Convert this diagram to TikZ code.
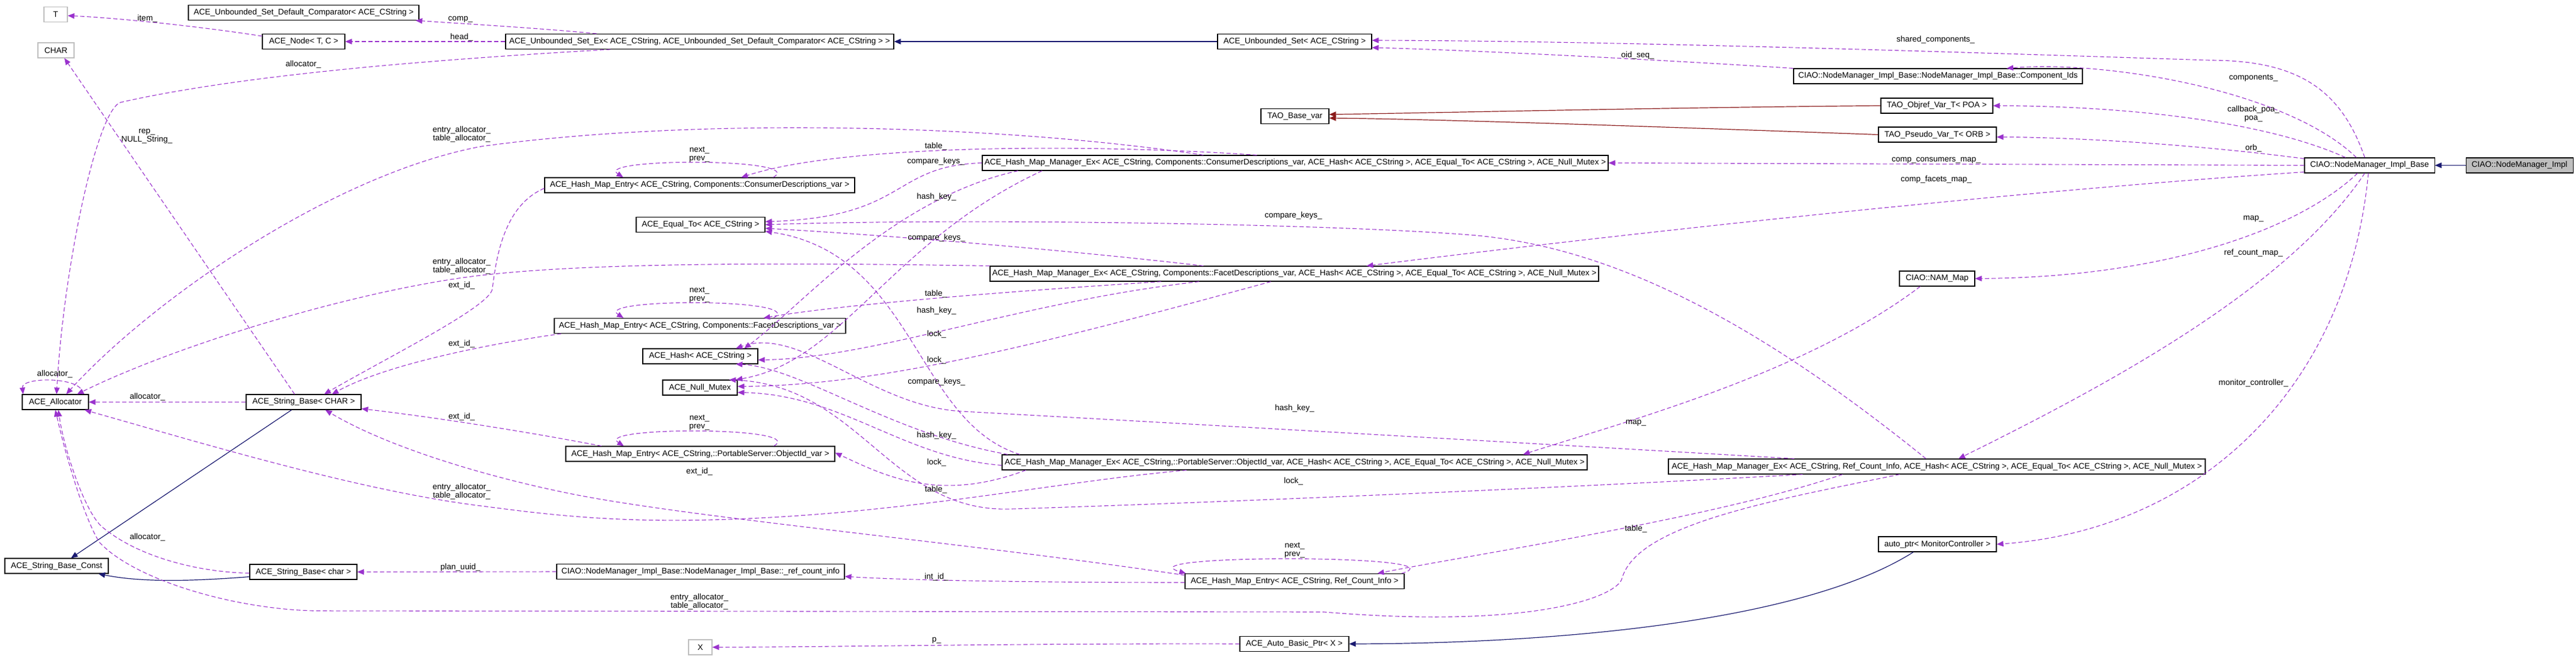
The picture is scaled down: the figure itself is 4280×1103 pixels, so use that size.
\documentclass[tikz,border=0pt]{standalone}
\usepackage{fontspec}
\setmainfont{Liberation Sans}
\usetikzlibrary{arrows.meta,calc}
\definecolor{purp}{HTML}{9A32CD}
\definecolor{navyb}{HTML}{191970}
\definecolor{fireb}{HTML}{8B1A1A}
\definecolor{grayfill}{HTML}{BFBFBF}
\newcommand\dgfont{\fontsize{13.5}{14}\selectfont}
\begin{document}
\begin{tikzpicture}[x=1pt,y=-1pt,
  box/.style={draw=black,line width=1.1pt,inner sep=0pt,minimum height=25pt,font=\dgfont,align=center},
  gbox/.style={box,draw=grayfill},
  fbox/.style={box,fill=grayfill},
  lbl/.style={font=\dgfont,inner sep=0pt,align=center},
  tip/.style={-{Triangle[length=11pt,width=9pt]}},
  use/.style={tip,draw=purp,line width=1.1pt,dash pattern=on 7pt off 4pt},
  inh/.style={tip,draw=navyb,line width=1.2pt},
  priv/.style={tip,draw=fireb,line width=1.2pt}]
\fill[white] (0,0) rectangle (4280,1103);
\useasboundingbox (0,0) rectangle (4280,1103);

% ---------------- nodes ----------------
\node[gbox,minimum width=39pt] (T) at (92.5,24) {T};
\node[box,minimum width=383pt] (cmp) at (504.5,21) {ACE\_Unbounded\_Set\_Default\_Comparator< ACE\_CString >};
\node[box,minimum width=137pt] (acenode) at (504.5,69) {ACE\_Node< T, C >};
\node[gbox,minimum width=60pt] (CHAR) at (93,83.5) {CHAR};
\node[box,minimum width=645pt] (setex) at (1162.5,69) {ACE\_Unbounded\_Set\_Ex< ACE\_CString, ACE\_Unbounded\_Set\_Default\_Comparator< ACE\_CString > >};
\node[box,minimum width=256pt] (uset) at (2151,69) {ACE\_Unbounded\_Set< ACE\_CString >};
\node[box,minimum width=113pt] (tbase) at (2151.5,193) {TAO\_Base\_var};
\node[box,minimum width=480pt] (cids) at (3220,126.5) {CIAO::NodeManager\_Impl\_Base::NodeManager\_Impl\_Base::Component\_Ids};
\node[box,minimum width=186pt] (objref) at (3218,175.5) {TAO\_Objref\_Var\_T< POA >};
\node[box,minimum width=196pt] (pseudo) at (3219,223.5) {TAO\_Pseudo\_Var\_T< ORB >};
\node[box,minimum width=216pt] (base) at (3937,274.5) {CIAO::NodeManager\_Impl\_Base};
\node[fbox,minimum width=178pt] (impl) at (4186,274.5) {CIAO::NodeManager\_Impl};
\node[box,minimum width=1040pt] (cmgr) at (2152,270.5) {ACE\_Hash\_Map\_Manager\_Ex< ACE\_CString, Components::ConsumerDescriptions\_var, ACE\_Hash< ACE\_CString >, ACE\_Equal\_To< ACE\_CString >, ACE\_Null\_Mutex >};
\node[box,minimum width=515pt] (centry) at (1162.5,307.5) {ACE\_Hash\_Map\_Entry< ACE\_CString, Components::ConsumerDescriptions\_var >};
\node[box,minimum width=214pt] (eq) at (1164,373) {ACE\_Equal\_To< ACE\_CString >};
\node[box,minimum width=1011pt] (fmgr) at (2150.5,454.5) {ACE\_Hash\_Map\_Manager\_Ex< ACE\_CString, Components::FacetDescriptions\_var, ACE\_Hash< ACE\_CString >, ACE\_Equal\_To< ACE\_CString >, ACE\_Null\_Mutex >};
\node[box,minimum width=125pt] (nam) at (3218.5,462.5) {CIAO::NAM\_Map};
\node[box,minimum width=484pt] (fentry) at (1163,541) {ACE\_Hash\_Map\_Entry< ACE\_CString, Components::FacetDescriptions\_var >};
\node[box,minimum width=191pt] (hash) at (1163.5,591.5) {ACE\_Hash< ACE\_CString >};
\node[box,minimum width=124pt] (mutex) at (1163,643.5) {ACE\_Null\_Mutex};
\node[box,minimum width=110pt] (alloc) at (92,667.5) {ACE\_Allocator};
\node[box,minimum width=191pt] (sbchar) at (504.5,667.5) {ACE\_String\_Base< CHAR >};
\node[box,minimum width=447pt] (oentry) at (1163.5,753.5) {ACE\_Hash\_Map\_Entry< ACE\_CString,::PortableServer::ObjectId\_var >};
\node[box,minimum width=972pt] (omgr) at (2151,767.5) {ACE\_Hash\_Map\_Manager\_Ex< ACE\_CString,::PortableServer::ObjectId\_var, ACE\_Hash< ACE\_CString >, ACE\_Equal\_To< ACE\_CString >, ACE\_Null\_Mutex >};
\node[box,minimum width=892pt] (rmgr) at (3218,774.5) {ACE\_Hash\_Map\_Manager\_Ex< ACE\_CString, Ref\_Count\_Info, ACE\_Hash< ACE\_CString >, ACE\_Equal\_To< ACE\_CString >, ACE\_Null\_Mutex >};
\node[box,minimum width=172pt] (sbconst) at (94,939.5) {ACE\_String\_Base\_Const};
\node[box,minimum width=178pt] (sbc) at (504,949.5) {ACE\_String\_Base< char >};
\node[box,minimum width=478pt] (rci) at (1164,949) {CIAO::NodeManager\_Impl\_Base::NodeManager\_Impl\_Base::\_ref\_count\_info};
\node[box,minimum width=364pt] (rentry) at (2151,965) {ACE\_Hash\_Map\_Entry< ACE\_CString, Ref\_Count\_Info >};
\node[box,minimum width=196pt] (autoptr) at (3219,903.5) {auto\_ptr< MonitorController >};
\node[gbox,minimum width=39pt] (X) at (1163.5,1074.5) {X};
\node[box,minimum width=181pt] (abp) at (2150.5,1069) {ACE\_Auto\_Basic\_Ptr< X >};

% ---------------- inheritance ----------------
\draw[inh] (impl.west) -- (base.east);
\draw[inh] (uset.west) -- (setex.east);
\draw[inh] ($(sbchar.south)+(-20,0)$) -- ($(sbconst.north)+(24,0)$);
\draw[inh] ($(sbc.west)+(0,8)$) .. controls (330,964) and (240,968) .. ($(sbconst.south east)+(-17,0)$);
\draw[inh] ($(autoptr.south)+(-40,0)$) .. controls (3000,1030) and (2600,1068) .. (abp.east);
\draw[priv] (objref.west) .. controls (2800,178) and (2400,187) .. ($(tbase.east)+(0,-3)$);
\draw[priv] (pseudo.west) .. controls (2800,212) and (2400,198) .. ($(tbase.east)+(0,3)$);

% ---------------- NodeManager_Impl_Base usages ----------------
\draw[use] ($(base.north)+(-8,0)$) .. controls (3890,150) and (3820,100) .. (3671,100) .. controls (3300,88) and (2700,68) .. ($(uset.east)+(0,-2)$);
\draw[use] ($(base.north)+(-22,0)$) .. controls (3800,150) and (3500,100) .. ($(cids.north)+(114,0)$);
\draw[use] (cids.north west) .. controls (2850,105) and (2500,85) .. ($(uset.east)+(0,10)$);
\draw[use] ($(base.north)+(-40,0)$) .. controls (3750,195) and (3500,176) .. (objref.east);
\draw[use] ($(base.north west)+(0,2)$) .. controls (3650,240) and (3450,228) .. ($(pseudo.east)+(0,4)$);
\draw[use] (base.west) -- (cmgr.east);
\draw[use] ($(base.south west)+(0,-2)$) .. controls (3300,320) and (2600,400) .. ($(fmgr.north)+(120,0)$);
\draw[use] ($(base.south)+(-20,0)$) .. controls (3820,380) and (3600,460) .. (nam.east);
\draw[use] ($(base.south)+(-8,0)$) .. controls (3800,480) and (3500,640) .. ($(rmgr.north)+(36,0)$);
\draw[use] ($(base.south)+(-2,0)$) .. controls (3900,650) and (3650,880) .. (autoptr.east);

% ---------------- Unbounded set / node / strings ----------------
\draw[use] ($(setex.north west)+(152,0)$) .. controls (900,47) and (780,40) .. ($(cmp.south east)+(-6,0)$);
\draw[use] (setex.west) -- (acenode.east);
\draw[use] ($(setex.south west)+(175,0)$) .. controls (700,100) and (400,125) .. (200,170) .. controls (160,185) and (105,450) .. ($(alloc.north)+(2,0)$);
\draw[use] ($(acenode.west)+(0,-9)$) .. controls (340,45) and (200,30) .. ($(T.east)+(0,2)$);
\draw[use] ($(sbchar.north)+(-15,0)$) -- ($(CHAR.south)+(14,0)$);
\draw[use] (sbchar.west) -- (alloc.east);
\draw[use] ($(sbc.west)+(0,2)$) .. controls (330,950) and (230,925) .. (170,875) .. controls (140,850) and (105,740) .. ($(alloc.south)+(5,0)$);
\draw[use] ($(alloc.north east)+(-10,0)$) .. controls (140,625) and (35,625) .. ($(alloc.north west)+(2,0)$);
\draw[use] (rci.west) -- (sbc.east);
\draw[use] ($(rentry.west)+(0,2)$) .. controls (1700,967) and (1500,963) .. ($(rci.east)+(0,8)$);
\draw[use] (abp.west) .. controls (1700,1068) and (1400,1074) .. (X.east);

% ---------------- entries: self loops and ext_id_ ----------------
\draw[use] ($(centry.north)+(122,0)$) .. controls (1345,262) and (985,262) .. ($(centry.north)+(-127,0)$);
\draw[use] ($(fentry.north)+(122,0)$) .. controls (1345,495) and (985,495) .. ($(fentry.north)+(-127,0)$);
\draw[use] ($(oentry.north)+(122,0)$) .. controls (1345,708) and (985,708) .. ($(oentry.north)+(-127,0)$);
\draw[use] ($(rentry.north east)+(-5,0)$) .. controls (2440,920) and (1860,920) .. ($(rentry.north west)+(2,0)$);
\draw[use] ($(centry.south west)+(0,-8)$) .. controls (840,340) and (825,420) .. (818,480) .. controls (812,510) and (650,590) .. ($(sbchar.north)+(34,0)$);
\draw[use] ($(fentry.south west)+(12,0)$) .. controls (850,565) and (650,600) .. ($(sbchar.north)+(47,0)$);
\draw[use] ($(oentry.north west)+(60,0)$) .. controls (850,712) and (700,690) .. ($(sbchar.south east)+(0,-2)$);
\draw[use] ($(rentry.north west)+(0,3)$) .. controls (1600,900) and (1150,860) .. (950,820) .. controls (800,790) and (640,740) .. ($(sbchar.south)+(36,0)$);

% ---------------- managers: table_ ----------------
\draw[use] ($(cmgr.north west)+(457,0)$) .. controls (1800,238) and (1400,240) .. ($(centry.north east)+(-189,0)$);
\draw[use] ($(fmgr.south west)+(285,0)$) .. controls (1700,482) and (1400,505) .. ($(fentry.north east)+(-137,0)$);
\draw[use] ($(omgr.south west)+(40,0)$) .. controls (1560,835) and (1470,790) .. ($(oentry.east)+(0,-2)$);
\draw[use] ($(rmgr.south west)+(290,0)$) .. controls (2850,860) and (2450,920) .. ($(rentry.north east)+(-45,0)$);

% ---------------- managers: compare_keys_ ----------------
\draw[use] (cmgr.west) .. controls (1480,275) and (1510,360) .. ($(eq.east)+(0,-5)$);
\draw[use] ($(rmgr.north)+(-18,0)$) .. controls (2950,560) and (2700,410) .. (2442,390) .. controls (2200,371) and (1600,362) .. (eq.east);
\draw[use] ($(fmgr.north west)+(355,0)$) .. controls (1800,418) and (1500,392) .. ($(eq.east)+(0,6)$);
\draw[use] ($(omgr.north west)+(30,0)$) .. controls (1520,700) and (1520,420) .. ($(eq.east)+(0,11)$);

% ---------------- managers: hash_key_ ----------------
\draw[use] ($(cmgr.south west)+(60,0)$) .. controls (1480,330) and (1330,510) .. ($(hash.north east)+(-23,0)$);
\draw[use] ($(fmgr.south west)+(348,0)$) .. controls (1700,500) and (1450,595) .. ($(hash.east)+(0,6)$);
\draw[use] ($(omgr.north west)+(10,0)$) .. controls (1480,720) and (1330,610) .. ($(hash.south east)+(-37,0)$);
\draw[use] ($(rmgr.north west)+(210,0)$) .. controls (2700,745) and (2000,705) .. (1600,683) .. controls (1450,676) and (1330,540) .. ($(hash.north east)+(-37,0)$);

% ---------------- managers: lock_ ----------------
\draw[use] ($(cmgr.south west)+(100,0)$) .. controls (1480,400) and (1400,600) .. ($(mutex.north east)+(-3,0)$);
\draw[use] ($(fmgr.south west)+(467,0)$) .. controls (1700,580) and (1450,640) .. ($(mutex.east)+(0,-2)$);
\draw[use] ($(omgr.west)+(0,5)$) .. controls (1500,760) and (1400,655) .. ($(mutex.east)+(0,8)$);
\draw[use] ($(rmgr.south west)+(224,0)$) .. controls (2600,810) and (2000,835) .. (1680,845) .. controls (1480,852) and (1430,640) .. ($(mutex.north east)+(-14,0)$);

% ---------------- managers: entry_allocator_ / table_allocator_ ----------------
\draw[use] ($(cmgr.north west)+(368,0)$) .. controls (1650,205) and (1150,195) .. (800,243) .. controls (550,290) and (250,500) .. ($(alloc.north)+(18,0)$);
\draw[use] (fmgr.north west) .. controls (1200,434) and (950,440) .. (800,457) .. controls (600,480) and (300,570) .. ($(alloc.north)+(36,0)$);
\draw[use] ($(omgr.south west)+(307,0)$) .. controls (1750,800) and (1500,855) .. (1182,863) .. controls (1000,868) and (880,850) .. (800,840) .. controls (600,815) and (350,740) .. ($(alloc.south east)+(-7,0)$);
\draw[use] ($(rmgr.south west)+(385,0)$) .. controls (2950,830) and (2720,870) .. (2695,960) .. controls (2688,990) and (2550,1045) .. (2200,1016) -- (520,1014) .. controls (380,1010) and (220,960) .. (165,900) .. controls (140,860) and (110,760) .. ($(alloc.south)+(0,0)$);

% ---------------- NAM_Map ----------------
\draw[use] ($(nam.south west)+(35,0)$) .. controls (3000,620) and (2700,700) .. ($(omgr.north east)+(-107,0)$);

% ---------------- labels ----------------
\node[lbl] (l1) at (245,31) {item\_};
\node[lbl] (l2) at (765,32) {comp\_};
\node[lbl] (l3) at (767,62) {head\_};
\node[lbl] (l4) at (504,107) {allocator\_};
\node[lbl] (l5) at (244,226) {rep\_\\NULL\_String\_};
\node[lbl] (l6) at (767,223) {entry\_allocator\_\\table\_allocator\_};
\node[lbl] (l7) at (767,442) {entry\_allocator\_\\table\_allocator\_};
\node[lbl] (l8) at (91,621) {allocator\_};
\node[lbl] (l9) at (245,659) {allocator\_};
\node[lbl] (l10) at (767,474) {ext\_id\_};
\node[lbl] (l11) at (767,571) {ext\_id\_};
\node[lbl] (l12) at (767,692) {ext\_id\_};
\node[lbl] (l13) at (767,816) {entry\_allocator\_\\table\_allocator\_};
\node[lbl] (l14) at (245,892) {allocator\_};
\node[lbl] (l15) at (765,942) {plan\_uuid\_};
\node[lbl] (l16) at (1162,257) {next\_\\prev\_};
\node[lbl] (l17) at (1162,490) {next\_\\prev\_};
\node[lbl] (l18) at (1162,702) {next\_\\prev\_};
\node[lbl] (l19) at (2151,914) {next\_\\prev\_};
\node[lbl] (l20) at (1162,783) {ext\_id\_};
\node[lbl] (l21) at (1162,999) {entry\_allocator\_\\table\_allocator\_};
\node[lbl] (l22) at (1556,1063) {p\_};
\node[lbl] (l23) at (1556,958) {int\_id\_};
\node[lbl] (l24) at (1555,243) {table\_};
\node[lbl] (l25) at (1555,268) {compare\_keys\_};
\node[lbl] (l26) at (1556,327) {hash\_key\_};
\node[lbl] (l27) at (1556,395) {compare\_keys\_};
\node[lbl] (l28) at (1555,488) {table\_};
\node[lbl] (l29) at (1556,516) {hash\_key\_};
\node[lbl] (l30) at (1556,555) {lock\_};
\node[lbl] (l31) at (1556,598) {lock\_};
\node[lbl] (l32) at (1556,634) {compare\_keys\_};
\node[lbl] (l33) at (1556,723) {hash\_key\_};
\node[lbl] (l34) at (1556,768) {lock\_};
\node[lbl] (l35) at (1555,813) {table\_};
\node[lbl] (l36) at (2149,358) {compare\_keys\_};
\node[lbl] (l37) at (2151,678) {hash\_key\_};
\node[lbl] (l38) at (2149,799) {lock\_};
\node[lbl] (l39) at (3216,66) {shared\_components\_};
\node[lbl] (l40) at (2721,92) {oid\_seq\_};
\node[lbl] (l41) at (3744,130) {components\_};
\node[lbl] (l42) at (3744,189) {callback\_poa\_\\poa\_};
\node[lbl] (l43) at (3744,246) {orb\_};
\node[lbl] (l44) at (3217,266) {comp\_consumers\_map\_};
\node[lbl] (l45) at (3217,298) {comp\_facets\_map\_};
\node[lbl] (l46) at (3744,363) {map\_};
\node[lbl] (l47) at (3744,420) {ref\_count\_map\_};
\node[lbl] (l48) at (3744,636) {monitor\_controller\_};
\node[lbl] (l49) at (2718,702) {map\_};
\node[lbl] (l50) at (2718,878) {table\_};
\end{tikzpicture}
\end{document}
